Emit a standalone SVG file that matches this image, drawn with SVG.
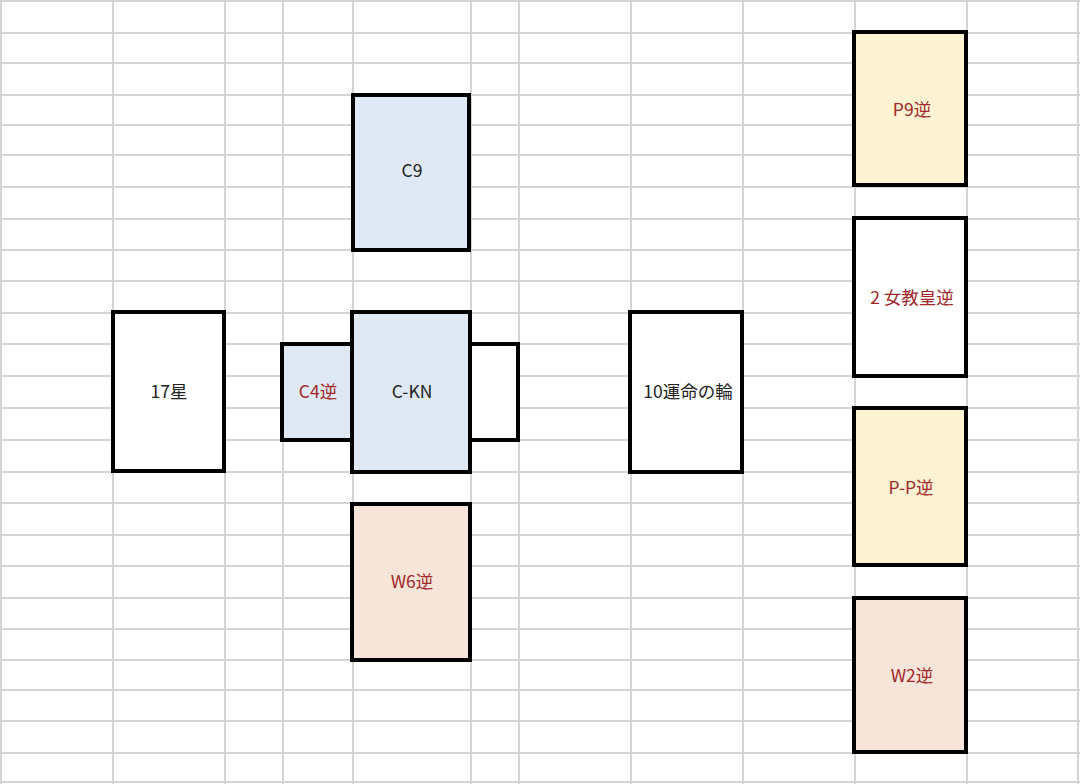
<svg xmlns="http://www.w3.org/2000/svg" width="1080" height="784" viewBox="0 0 1080 784">
<style>
.grid line{stroke:#d4d4d4;stroke-width:2}
.card{stroke:#000;stroke-width:4}
.w{fill:#ffffff}
.b{fill:#dfe9f5}
.y{fill:#fdf2d2}
.p{fill:#f8e5d9}
text{font-family:"Noto Sans CJK JP","Noto Sans",sans-serif;font-size:17.5px;text-anchor:middle;dominant-baseline:central}
.k{fill:#222222}
.r{fill:#a0282a}
</style>
<rect width="1080" height="784" fill="#ffffff"/>
<g class="grid" id="grid">
<line x1="1" y1="0" x2="1" y2="784"/>
<line x1="113" y1="0" x2="113" y2="784"/>
<line x1="225" y1="0" x2="225" y2="784"/>
<line x1="283" y1="0" x2="283" y2="784"/>
<line x1="353" y1="0" x2="353" y2="784"/>
<line x1="471" y1="0" x2="471" y2="784"/>
<line x1="519" y1="0" x2="519" y2="784"/>
<line x1="631" y1="0" x2="631" y2="784"/>
<line x1="743" y1="0" x2="743" y2="784"/>
<line x1="855" y1="0" x2="855" y2="784"/>
<line x1="967" y1="0" x2="967" y2="784"/>
<line x1="1078" y1="0" x2="1078" y2="784"/>
<line x1="0" y1="1" x2="1080" y2="1"/>
<line x1="0" y1="33" x2="1080" y2="33"/>
<line x1="0" y1="63" x2="1080" y2="63"/>
<line x1="0" y1="95" x2="1080" y2="95"/>
<line x1="0" y1="125" x2="1080" y2="125"/>
<line x1="0" y1="155" x2="1080" y2="155"/>
<line x1="0" y1="187" x2="1080" y2="187"/>
<line x1="0" y1="219" x2="1080" y2="219"/>
<line x1="0" y1="250" x2="1080" y2="250"/>
<line x1="0" y1="281" x2="1080" y2="281"/>
<line x1="0" y1="313" x2="1080" y2="313"/>
<line x1="0" y1="344" x2="1080" y2="344"/>
<line x1="0" y1="376" x2="1080" y2="376"/>
<line x1="0" y1="408" x2="1080" y2="408"/>
<line x1="0" y1="440" x2="1080" y2="440"/>
<line x1="0" y1="472" x2="1080" y2="472"/>
<line x1="0" y1="503" x2="1080" y2="503"/>
<line x1="0" y1="535" x2="1080" y2="535"/>
<line x1="0" y1="566" x2="1080" y2="566"/>
<line x1="0" y1="598" x2="1080" y2="598"/>
<line x1="0" y1="629" x2="1080" y2="629"/>
<line x1="0" y1="660" x2="1080" y2="660"/>
<line x1="0" y1="690" x2="1080" y2="690"/>
<line x1="0" y1="721" x2="1080" y2="721"/>
<line x1="0" y1="753" x2="1080" y2="753"/>
<line x1="0" y1="782" x2="1080" y2="782"/>
</g>
<g id="connectors"></g>
<g id="c9"><rect class="card b" x="353" y="95" width="116" height="155"/><text class="k" x="412" y="169">C9</text></g>
<g id="star17"><rect class="card w" x="113" y="312" width="111" height="159"/><text class="k" x="169" y="390">17星</text></g>
<g id="c4"><rect class="card b" x="282" y="344" width="70" height="96"/><text class="r" x="318" y="390">C4逆</text></g>
<g id="blank"><rect class="card w" x="468" y="344" width="50" height="96"/></g>
<g id="ckn"><rect class="card b" x="352" y="312" width="118" height="160"/><text class="k" x="412" y="390">C-KN</text></g>
<g id="wheel10"><rect class="card w" x="630" y="312" width="112" height="160"/><text class="k" x="688" y="390">10運命の輪</text></g>
<g id="w6"><rect class="card p" x="352" y="504" width="118" height="156"/><text class="r" x="412" y="580">W6逆</text></g>
<g id="p9"><rect class="card y" x="854" y="32" width="112" height="153"/><text class="r" x="912" y="108">P9逆</text></g>
<g id="priestess2"><rect class="card w" x="854" y="218" width="112" height="158"/><text class="r" x="912" y="296">2 女教皇逆</text></g>
<g id="pp"><rect class="card y" x="854" y="408" width="112" height="157"/><text class="r" x="911" y="486">P-P逆</text></g>
<g id="w2"><rect class="card p" x="854" y="598" width="112" height="154"/><text class="r" x="912" y="674">W2逆</text></g>
</svg>
